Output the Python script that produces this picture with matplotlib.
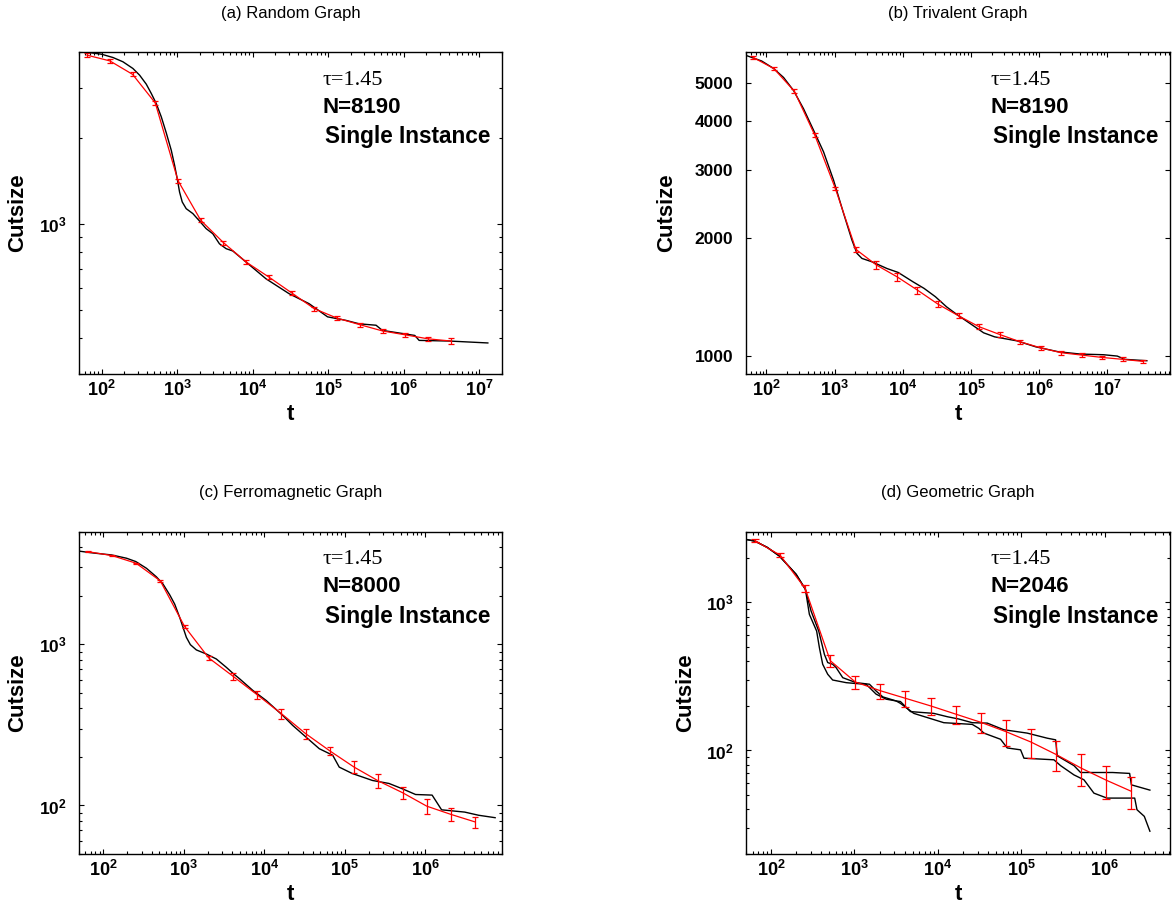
import numpy as np
import matplotlib
matplotlib.use("Agg")
import matplotlib.pyplot as plt
from matplotlib.ticker import FixedLocator, FuncFormatter, NullFormatter, NullLocator, LogLocator

plt.rcParams['font.family'] = ['Liberation Sans', 'DejaVu Sans']
plt.rcParams['mathtext.fontset'] = 'custom'
plt.rcParams['mathtext.bf'] = 'Liberation Sans:bold'
plt.rcParams['mathtext.rm'] = 'Liberation Sans'

# (a) Random Graph
a_black_t = [49, 69, 100, 141, 191, 259, 318, 389, 453, 527, 615, 716, 834, 923, 1000, 1074, 1165,
             1315, 1611, 1972, 2415, 2958, 3622, 4443, 5445, 8166, 15000, 30400, 55800, 98000,
             170000, 258000, 430000, 520000, 1.4e6, 1.6e6, 4e6, 1.3e7]
a_black_y = [4030, 3981, 3928, 3826, 3697, 3503, 3318, 3088, 2866, 2644, 2374, 2086, 1814, 1608, 1443,
             1296, 1197, 1134, 1090, 1027, 966, 927, 855, 822, 807, 738, 645, 572, 528, 475,
             462, 449, 444, 426, 409, 393, 391, 385]
a_red_t = [2 ** k for k in range(6, 23)]
a_red_y = [3899, 3724, 3342, 2655, 1421, 1033, 863, 738, 654, 576, 507, 470, 446, 424, 411, 398, 391]
a_red_err = [62, 60, 53, 42, 23, 17, 14, 12, 10, 9, 8, 8, 7, 7, 7, 6, 10]

# (b) Trivalent Graph
b_black_t = [49, 85, 127, 178, 249, 349, 490, 687, 964, 1352, 1791, 2120, 2512, 3550, 5860, 8530,
             14100, 20500, 30000, 43700, 63500, 105000, 153000, 222000, 470000, 890000, 1.9e6, 4e6,
             8.8e6, 1.4e7, 1.8e7, 3.8e7]
b_black_y = [5888, 5690, 5445, 5164, 4784, 4296, 3784, 3331, 2818, 2317, 1981, 1832, 1778, 1742, 1675,
             1637, 1549, 1490, 1419, 1337, 1274, 1200, 1147, 1120, 1094, 1056, 1026, 1012,
             1008, 1000, 981, 973]
b_red_t = [2 ** k for k in range(6, 26)]
b_red_y = [5807, 5443, 4762, 3674, 2683, 1875, 1710, 1596, 1475, 1358, 1268, 1189, 1136, 1088, 1050,
           1020, 1006, 992, 981, 969]
b_red_err = [60, 55, 50, 40, 30, 25, 40, 35, 30, 25, 20, 18, 16, 14, 12, 12, 10, 11, 11, 10]

# (c) Ferromagnetic Graph
c_black_t = [49, 75, 127, 195, 254, 344, 458, 554, 670, 773, 892, 981, 1079, 1210, 1436, 1910, 2543,
             3383, 4090, 4948, 7240, 10600, 17000, 22600, 33000, 48400, 71000, 85600, 124000, 221000,
             355000, 520000, 760000, 1.22e6, 1.6e6, 3.1e6, 4.6e6, 7.4e6]
c_black_y = [3793, 3687, 3586, 3421, 3262, 2965, 2622, 2363, 2028, 1775, 1468, 1274, 1105, 995, 923,
             871, 811, 720, 661, 611, 517, 448, 362, 314, 266, 225, 205, 173, 158, 143,
             137, 127, 117, 116, 94, 91, 87, 84]
c_red_t = [2 ** k for k in range(6, 23)]
c_red_y = [3760, 3555, 3186, 2475, 1292, 823, 634, 486, 371, 279, 218, 173, 142, 120, 99, 88, 79]
c_red_err = [20, 20, 25, 40, 35, 25, 30, 27, 26, 20, 13, 15, 14, 11, 11, 8, 6]

# (d) Geometric Graph, two single runs
d_black1_t = [50, 64, 90, 126, 200, 258, 302, 373, 436, 478, 548, 602, 724, 1048, 1514, 1820, 2188,
              3160, 3560, 4700, 8950, 13000, 17900, 25900, 39200, 62000, 118000, 206000, 259000,
              271000, 430000, 516000, 1.25e6, 2.0e6, 2.1e6, 3.5e6]
d_black1_y = [2660, 2590, 2350, 2053, 1545, 1224, 873, 640, 446, 392, 382, 363, 310, 287, 280, 252, 230,
              216, 214, 183, 178, 169, 163, 154, 153, 138, 131, 121, 118,
              92, 79, 71, 71, 70, 58.6, 54]
d_black2_t = [50, 64, 90, 126, 200, 258, 288, 352, 380, 416, 478, 548, 795, 1048, 1380, 1820, 2400,
              3160, 3560, 5150, 11800, 25900, 31100, 35700, 56600, 68000, 98400, 108000, 247000,
              297000, 430000, 566000, 746000, 1.07e6, 2.3e6, 2.45e6, 3.0e6, 3.5e6]
d_black2_y = [2660, 2590, 2350, 2053, 1545, 1224, 830, 640, 494, 382, 327, 299, 287, 283, 280, 240, 222,
              216, 208, 178, 154, 150, 141, 131, 119, 104, 101, 88.7, 86.5,
              79, 68.4, 63.4, 51.5, 47.7, 47.7, 39.8, 35.9, 28.5]
d_red_t = [2 ** k for k in range(6, 22)]
d_red_y = [2606, 2085, 1243, 404, 290, 253, 225, 200, 176, 155, 134, 114, 94, 76, 63, 53]
d_red_err = [66, 75, 67, 39, 30, 29, 29, 27, 25, 24, 26, 25, 21, 18, 16, 13]


def pow_label(v, pos):
    return r'$\mathbf{10^{%d}}$' % int(round(np.log10(v)))


def draw_panel(ax, title, n_text, curves, red_t, red_y, red_err, xlim, ylim, ylab_x,
               yticks=None, capsize=2.5):
    for bt, by in curves:
        ax.plot(bt, by, color='black', lw=1.0)
    ax.errorbar(red_t, red_y, yerr=red_err, color='red', lw=0.9, elinewidth=0.9,
                capsize=capsize, capthick=0.9)
    ax.set_xscale('log')
    ax.set_yscale('log')
    ax.set_xlim(*xlim)
    ax.set_ylim(*ylim)

    ax.xaxis.set_major_locator(LogLocator(base=10, numticks=15))
    ax.xaxis.set_minor_locator(LogLocator(base=10, subs=np.arange(2, 10), numticks=15))
    ax.xaxis.set_major_formatter(FuncFormatter(pow_label))
    ax.xaxis.set_minor_formatter(NullFormatter())
    if yticks is None:
        ax.yaxis.set_major_locator(LogLocator(base=10, numticks=15))
        ax.yaxis.set_minor_locator(LogLocator(base=10, subs=np.arange(2, 10), numticks=15))
        ax.yaxis.set_major_formatter(FuncFormatter(pow_label))
    else:
        ax.yaxis.set_major_locator(FixedLocator(yticks))
        ax.yaxis.set_minor_locator(NullLocator())
        ax.yaxis.set_major_formatter(FuncFormatter(lambda v, p: '%d' % v))
    ax.yaxis.set_minor_formatter(NullFormatter())

    ax.tick_params(which='both', direction='in', top=True, right=True, width=0.8)
    ax.tick_params(which='major', length=3.5)
    ax.tick_params(which='minor', length=2)
    ax.tick_params(axis='x', which='major', labelsize=13, pad=4)
    ax.tick_params(axis='y', which='major', labelsize=12.5, pad=9)
    for lab in ax.get_yticklabels():
        lab.set_fontweight('bold')
    for sp in ax.spines.values():
        sp.set_linewidth(1.0)

    ax.set_xlabel('t', fontsize=16, fontweight='bold', va='center')
    ax.xaxis.set_label_coords(0.5, -0.127)
    ax.set_ylabel('Cutsize', fontsize=16, fontweight='bold', va='center')
    ax.yaxis.set_label_coords(ylab_x, 0.5)

    ax.text(0.5, 1.12, title, transform=ax.transAxes, ha='center', va='center', fontsize=12)
    ax.text(0.576, 0.913, r'τ=1.45', transform=ax.transAxes, ha='left', va='center',
            fontsize=16, family='Liberation Serif')
    ax.text(0.576, 0.829, n_text, transform=ax.transAxes, ha='left', va='center',
            fontsize=16, fontweight='bold')
    ax.text(0.582, 0.736, 'Single Instance', transform=ax.transAxes, ha='left', va='center',
            fontsize=16.3, fontweight='bold')


fig = plt.figure(figsize=(11.72, 9.09), dpi=100)
ax_a = fig.add_axes([0.0674, 0.5886, 0.3609, 0.3542])
ax_b = fig.add_axes([0.6365, 0.5886, 0.3618, 0.3542])
ax_c = fig.add_axes([0.0674, 0.0605, 0.3609, 0.3546])
ax_d = fig.add_axes([0.6365, 0.0605, 0.3618, 0.3546])

draw_panel(ax_a, '(a) Random Graph', 'N=8190', [(a_black_t, a_black_y)],
           a_red_t, a_red_y, a_red_err, (50, 2e7), (300, 4000), -0.144)
draw_panel(ax_b, '(b) Trivalent Graph', 'N=8190', [(b_black_t, b_black_y)],
           b_red_t, b_red_y, b_red_err, (50, 8.3e7), (900, 6000), -0.186,
           yticks=[1000, 2000, 3000, 4000, 5000])
draw_panel(ax_c, '(c) Ferromagnetic Graph', 'N=8000', [(c_black_t, c_black_y)],
           c_red_t, c_red_y, c_red_err, (50, 9e6), (50, 5000), -0.144)
draw_panel(ax_d, '(d) Geometric Graph', 'N=2046',
           [(d_black1_t, d_black1_y), (d_black2_t, d_black2_y)],
           d_red_t, d_red_y, d_red_err, (50, 6.1e6), (20, 3000), -0.142, capsize=3)

fig.savefig('out.png', dpi=100)
